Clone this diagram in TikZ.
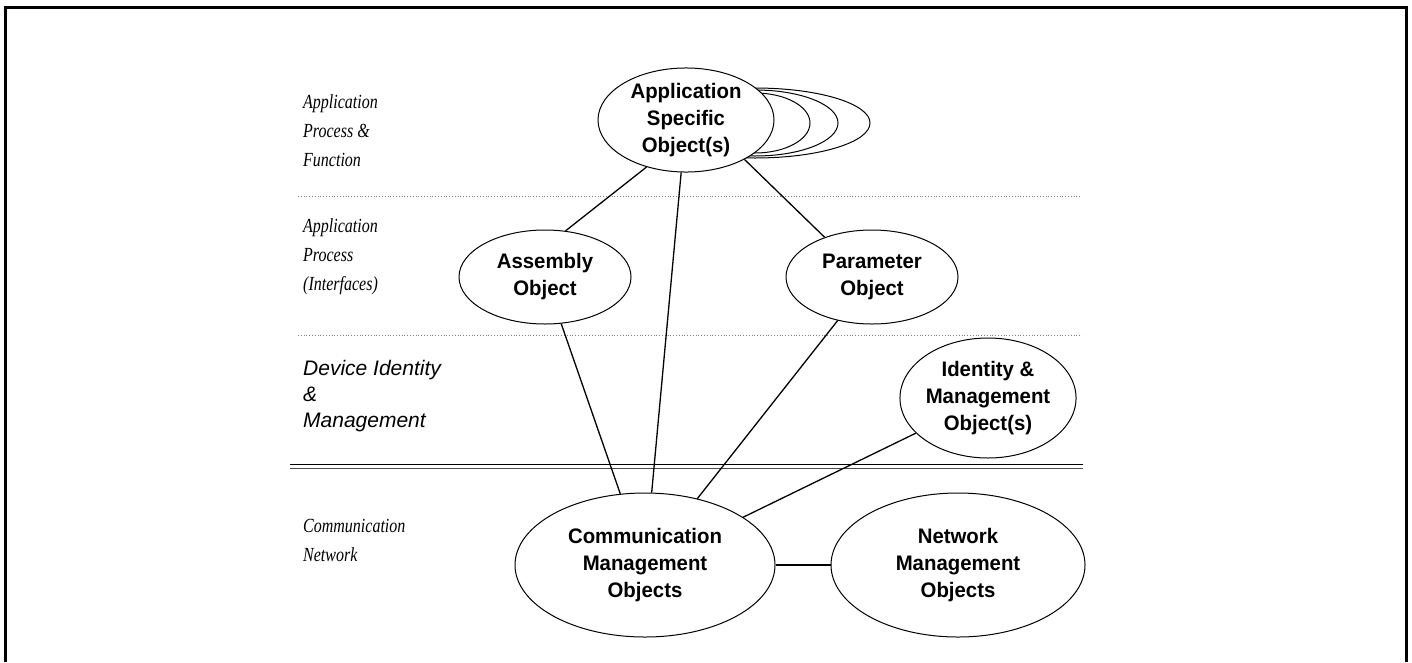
\documentclass[tikz,border=0pt]{standalone}
\usepackage{fontspec}
\setmainfont{Liberation Serif}
\newfontfamily\objfont[FakeStretch=0.97]{Liberation Sans}
\newfontfamily\serifnarrow[FakeStretch=0.8]{Liberation Serif}
\newfontfamily\sansnarrow{Liberation Sans}
\usetikzlibrary{shapes.geometric}
\begin{document}
\begin{tikzpicture}[x=1pt,y=-1pt,
  obj/.style={ellipse,draw,line width=1pt,fill=white,inner sep=0pt,align=center,
    font=\objfont\bfseries\fontsize{21}{27}\selectfont},
  layer/.style={anchor=west,align=left,inner sep=0pt,
    font=\serifnarrow\itshape\fontsize{20}{29}\selectfont},
  layersans/.style={layer,font=\sansnarrow\itshape\fontsize{21}{26}\selectfont},
  sep/.style={gray,dotted,line width=0.8pt},
  link/.style={line width=1.3pt}]
\useasboundingbox (0,0) rectangle (1412,662);
% open frame
\draw[line width=3pt] (5.5,662) -- (5.5,7.5) -- (1406.5,7.5) -- (1406.5,662);

% layer separators
\draw[sep] (298,196) -- (1082,196);
\draw[sep] (298,335) -- (1082,335);
\draw[line width=1.4pt] (290,464.5) -- (1083,464.5);
\draw[line width=1.4pt,black!70] (290,468.5) -- (1083,468.5);

% layer names
\node[layer] (l1) at (303,131) {Application\\Process \&\\Function};
\node[layer] (l2) at (303,257) {Application\\Process\\(Interfaces)};
\node[layersans] (l3) at (303,396) {Device Identity\\\&\\Management};
\node[layer] (l4) at (303,540) {Communication\\Network};

% stacked copies behind the application object
\draw[line width=1pt,fill=white] (755,123) ellipse [x radius=115,y radius=35];
\draw[line width=1pt,fill=white] (755,123) ellipse [x radius=83,y radius=33];
\draw[line width=1pt,fill=white] (755,123) ellipse [x radius=55,y radius=30];

% objects
\node[obj,minimum width=176,minimum height=100] (aso) at (686,120) {Application\\Specific\\Object(s)};
\node[obj,minimum width=172,minimum height=94] (asm) at (545,277) {Assembly\\Object};
\node[obj,minimum width=172,minimum height=94] (par) at (872,277) {Parameter\\Object};
\node[obj,minimum width=166,minimum height=120] (idm) at (988,398) {Identity \&\\Management\\Object(s)};
\node[obj,minimum width=260,minimum height=144] (cmo) at (645,565) {Communication\\Management\\Objects};
\node[obj,minimum width=254,minimum height=144] (nmo) at (958,565) {Network\\Management\\Objects};

% relations
\draw[link] (aso.230) -- (asm.66);
\draw[link] (aso.-34) -- (par.140);
\draw[link] (aso) -- (cmo);
\draw[link] (asm) -- (cmo);
\draw[link] (par) -- (cmo);
\draw[link] (idm) -- (cmo);
\draw[link] (cmo) -- (nmo);
\end{tikzpicture}
\end{document}
